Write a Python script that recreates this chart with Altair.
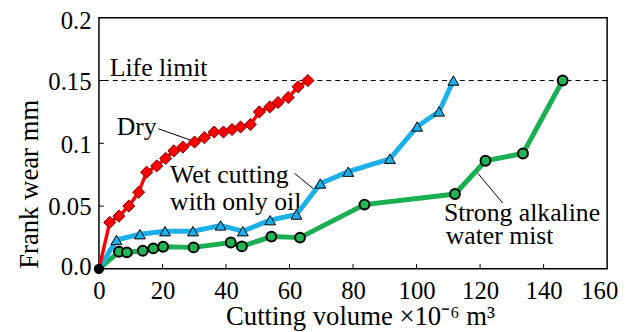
import altair as alt
import pandas as pd

# ---- data ----
dry_x = [0, 3.4, 6.3, 9.4, 12.5, 15.0, 18.2, 21.0, 23.6, 26.4, 30.1, 33.2, 36.3, 39.2, 41.9, 44.6, 47.7, 50.5, 53.8, 56.4, 59.6, 62.7, 65.8]
dry_y = [0, 0.037, 0.042, 0.050, 0.061, 0.077, 0.082, 0.088, 0.094, 0.097, 0.101, 0.1045, 0.109, 0.109, 0.111, 0.113, 0.115, 0.125, 0.129, 0.1325, 0.1365, 0.145, 0.150]

oil_x = [0, 5.5, 12.9, 20.8, 29.6, 38.3, 45.3, 53.9, 62.2, 69.7, 78.5, 91.6, 100.2, 107.1, 111.6]
oil_y = [0, 0.023, 0.0276, 0.030, 0.030, 0.0346, 0.030, 0.0388, 0.0433, 0.068, 0.0774, 0.0877, 0.1134, 0.1254, 0.150]

mist_x = [0, 6.3, 8.8, 13.8, 17.1, 20.2, 29.8, 41.5, 45.0, 54.3, 63.3, 83.6, 112.1, 121.7, 133.5, 146.0]
mist_y = [0, 0.0136, 0.0131, 0.0144, 0.0163, 0.0176, 0.0171, 0.021, 0.0179, 0.0257, 0.0249, 0.0512, 0.0596, 0.0861, 0.0919, 0.150]

life_limit = [0.15]

x_ticks = [0, 20, 40, 60, 80, 100, 120, 140, 160]
y_ticks = [0, 0.05, 0.1, 0.15, 0.2]

ann_text = ["Life limit", "Dry", "Wet cutting", "with only oil", "Strong alkaline", "water mist"]
ann_x = [3.4, 5.6, 22.4, 22.4, 108.6, 109.2]
ann_y = [0.1535, 0.1063, 0.0685, 0.0465, 0.0380, 0.0195]

lead_x = [18.7, 61.6, 119.3]
lead_y = [0.1116, 0.0761, 0.0761]
lead_x2 = [29.0, 68.5, 127.1]
lead_y2 = [0.1024, 0.0617, 0.0525]

FONT = "Liberation Serif, Times New Roman, serif"

xs = alt.Scale(domain=[0, 160], nice=False, zero=False)
ys = alt.Scale(domain=[0, 0.2], nice=False, zero=False)

X = alt.X(
    "x:Q", scale=xs,
    axis=alt.Axis(values=x_ticks, labelFontSize=25, labelFont=FONT, labelColor="#000",
                  labelPadding=10, labelFlush=False, labelOverlap=False,
                  labelOffset={"condition": {"test": "datum.value == 160", "value": -8}, "value": 0},
                  title="Cutting volume \u00d710\u207b\u2076   m\u00b3", titleFont=FONT, titleFontSize=27,
                  titleFontWeight="normal", titleColor="#000", titleX=264, titleY=56,
                  titleAnchor="middle", titleAlign="center", titleBaseline="alphabetic"),
)
Y = alt.Y(
    "y:Q", scale=ys,
    axis=alt.Axis(values=y_ticks, format="~g", labelExpr="datum.value == 0 ? '0.0' : datum.label",
                  labelFontSize=25, labelFont=FONT, labelColor="#000", labelPadding=8,
                  labelFlush=False, labelOverlap=False,
                  labelOffset={"condition": [{"test": "datum.value == 0", "value": -2},
                                             {"test": "datum.value == 0.2", "value": 3}],
                               "value": 1},
                  title="Frank wear mm", titleFont=FONT, titleFontSize=27, titleFontWeight="normal",
                  titleColor="#000", titleX=-70, titleY=168, titleAngle=270,
                  titleAlign="center", titleBaseline="middle"),
)

dry = pd.DataFrame({"x": dry_x, "y": dry_y})
oil = pd.DataFrame({"x": oil_x, "y": oil_y})
mist = pd.DataFrame({"x": mist_x, "y": mist_y})

limit = alt.Chart(pd.DataFrame({"y": life_limit})).mark_rule(
    color="#000", strokeWidth=1, strokeDash=[5, 4]).encode(y=Y)

xt = alt.Chart(pd.DataFrame({"x": x_ticks[1:-1]})).mark_rule(color="#000", strokeWidth=1).encode(
    x=X, y=alt.value(254), y2=alt.value(249))
yt = alt.Chart(pd.DataFrame({"y": y_ticks[1:-1]})).mark_rule(color="#000", strokeWidth=1).encode(
    y=Y, x=alt.value(0), x2=alt.value(5))

ann = alt.Chart(pd.DataFrame({"x": ann_x, "y": ann_y, "t": ann_text})).mark_text(
    align="left", baseline="alphabetic", font=FONT, fontSize=26, color="#000").encode(
    x=X, y=Y, text="t:N")

lead = alt.Chart(pd.DataFrame({"x": lead_x, "y": lead_y, "x2": lead_x2, "y2": lead_y2})).mark_rule(
    color="#000", strokeWidth=1).encode(x=X, y=Y, x2="x2:Q", y2="y2:Q")

RED, BLUE, GREEN = "#ff0000", "#1cb0ea", "#1aaf50"

dry_line = alt.Chart(dry).mark_line(color=RED, strokeWidth=3.5).encode(x=X, y=Y)
oil_line = alt.Chart(oil).mark_line(color=BLUE, strokeWidth=5).encode(x=X, y=Y)
mist_line = alt.Chart(mist).mark_line(color=GREEN, strokeWidth=5).encode(x=X, y=Y)

dry_pts = alt.Chart(dry.iloc[1:]).mark_point(
    shape="diamond", size=150, filled=True, fill=RED, stroke="#700", strokeWidth=1, opacity=1).encode(x=X, y=Y)
oil_pts = alt.Chart(oil.iloc[1:]).mark_point(
    shape="triangle-up", size=120, filled=True, fill=BLUE, stroke="#000", strokeWidth=1, opacity=1).encode(x=X, y=Y)
mist_pts = alt.Chart(mist.iloc[1:]).mark_point(
    shape="circle", size=100, filled=True, fill="#22b455", stroke="#000", strokeWidth=2, opacity=1).encode(x=X, y=Y)

origin = alt.Chart(pd.DataFrame({"x": [0], "y": [0]})).mark_point(
    shape="circle", size=70, filled=True, fill="#000", stroke="#000", opacity=1).encode(x=X, y=Y)

chart = alt.layer(
    limit, xt, yt, ann, lead,
    mist_line, oil_line, dry_line,
    mist_pts, oil_pts, dry_pts, origin,
).properties(
    width=514, height=254,
    autosize=alt.AutoSizeParams(type="none"),
    padding={"left": 92, "top": 8, "right": 11, "bottom": 62},
).configure(
    font=FONT
).configure_view(
    stroke="#000", strokeWidth=1.5
).configure_axis(
    domain=False, ticks=False, grid=False
)

chart.save("out.html", embed_options={"renderer": "svg", "actions": False})
